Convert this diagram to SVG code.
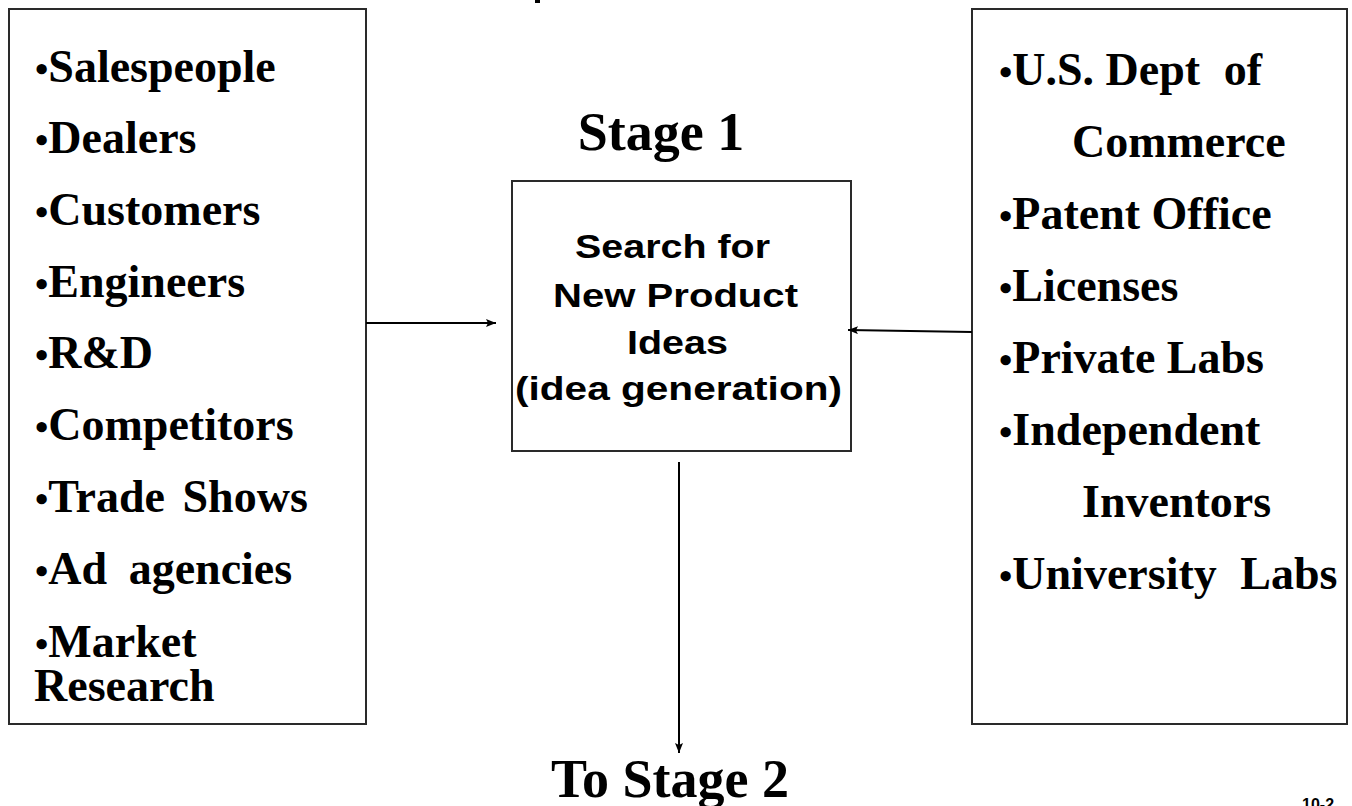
<svg xmlns="http://www.w3.org/2000/svg" width="1352" height="806" viewBox="0 0 1352 806">
<style>
.box{fill:#fff;stroke:#2a2a2a;stroke-width:2}
.item{font-family:"Liberation Serif","Times New Roman",serif;font-weight:bold;font-size:46px;fill:#000}
.b{font-size:38px}
.stage{font-family:"Liberation Serif","Times New Roman",serif;font-weight:bold;font-size:54px;fill:#000;text-anchor:middle}
.center{font-family:"Liberation Sans",Arial,sans-serif;font-weight:bold;font-size:34px;fill:#000}
.conn{stroke:#000;stroke-width:2;fill:none}
.small{font-family:"Liberation Sans",Arial,sans-serif;font-weight:bold;font-size:16px;fill:#000}
</style>
<defs>
<marker id="ah" markerWidth="10" markerHeight="8" refX="10" refY="4" orient="auto" markerUnits="userSpaceOnUse">
<path d="M0,0 L10,4 L0,8 L2,4 Z" fill="#000"/>
</marker>
</defs>
<rect x="535" y="0" width="5" height="3" fill="#000"/>
<g id="sources-internal">
<rect class="box" x="9" y="9" width="357" height="715"/>
<text class="item" x="35" y="82"><tspan class="b">•</tspan>Salespeople</text>
<text class="item" x="35" y="153"><tspan class="b">•</tspan>Dealers</text>
<text class="item" x="35" y="225"><tspan class="b">•</tspan>Customers</text>
<text class="item" x="35" y="297"><tspan class="b">•</tspan>Engineers</text>
<text class="item" x="35" y="368"><tspan class="b">•</tspan>R&amp;D</text>
<text class="item" x="35" y="440"><tspan class="b">•</tspan>Competitors</text>
<text class="item" x="35" y="512"><tspan class="b">•</tspan>Trade <tspan dx="6">Shows</tspan></text>
<text class="item" x="35" y="584"><tspan class="b">•</tspan>Ad <tspan dx="10">agencies</tspan></text>
<text class="item" x="35" y="657"><tspan class="b">•</tspan>Market</text>
<text class="item" x="34" y="701">Research</text>
</g>
<g id="sources-external">
<rect class="box" x="972" y="9" width="375" height="715"/>
<text class="item" x="999" y="85"><tspan class="b">•</tspan>U.S. Dept <tspan dx="12">of</tspan></text>
<text class="item" x="1072" y="157">Commerce</text>
<text class="item" x="999" y="229"><tspan class="b">•</tspan>Patent Office</text>
<text class="item" x="999" y="301"><tspan class="b">•</tspan>Licenses</text>
<text class="item" x="999" y="373"><tspan class="b">•</tspan>Private Labs</text>
<text class="item" x="999" y="445"><tspan class="b">•</tspan>Independent</text>
<text class="item" x="1082" y="517">Inventors</text>
<text class="item" x="999" y="589"><tspan class="b">•</tspan>University <tspan dx="12">Labs</tspan></text>
</g>
<g id="stage1-label">
<text class="stage" x="661" y="150">Stage 1</text>
</g>
<g id="stage1">
<rect class="box" x="512" y="181" width="339" height="270"/>
<text class="center" x="575" y="258" textLength="195" lengthAdjust="spacingAndGlyphs">Search for</text>
<text class="center" x="553" y="307" textLength="245" lengthAdjust="spacingAndGlyphs">New Product</text>
<text class="center" x="627" y="354" textLength="101" lengthAdjust="spacingAndGlyphs">Ideas</text>
<text class="center" x="515" y="400" textLength="327" lengthAdjust="spacingAndGlyphs">(idea generation)</text>
</g>
<g id="stage2-label">
<text class="stage" x="670" y="797">To Stage 2</text>
</g>
<g id="connectors">
<line class="conn" x1="366" y1="323" x2="496" y2="323" marker-end="url(#ah)"/>
<line class="conn" x1="972" y1="332" x2="848" y2="330" marker-end="url(#ah)"/>
<line class="conn" x1="679" y1="462" x2="679" y2="753" marker-end="url(#ah)"/>
</g>
<text class="small" x="1302" y="810">10-2</text>
</svg>
